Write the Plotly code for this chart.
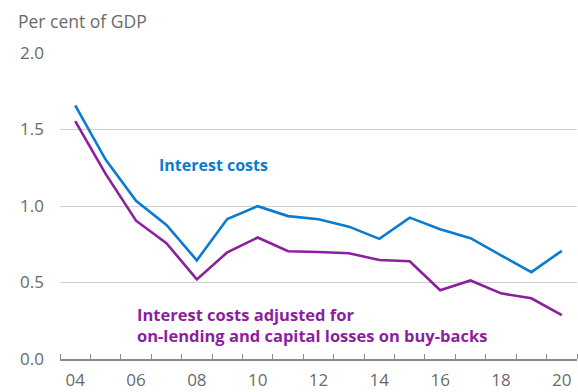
import plotly.graph_objects as go

years = list(range(2004, 2021))
interest_costs = [1.657, 1.303, 1.034, 0.876, 0.645, 0.915, 0.999, 0.934, 0.913,
                  0.865, 0.785, 0.924, 0.848, 0.790, 0.678, 0.568, 0.707]
adjusted_costs = [1.555, 1.210, 0.904, 0.757, 0.520, 0.697, 0.794, 0.704, 0.699,
                  0.691, 0.647, 0.639, 0.449, 0.513, 0.429, 0.397, 0.287]
tick_years = list(range(2004, 2021, 2))
tick_labels = ["04", "06", "08", "10", "12", "14", "16", "18", "20"]
y_ticks = [0, 0.5, 1.0, 1.5, 2.0]

BLUE = "#0B7BD0"
PURPLE = "#8C1F9D"
FONT = "Open Sans"

fig = go.Figure()
fig.add_trace(go.Scatter(x=years, y=interest_costs, mode="lines",
                         line=dict(color=BLUE, width=2.6), showlegend=False))
fig.add_trace(go.Scatter(x=years, y=adjusted_costs, mode="lines",
                         line=dict(color=PURPLE, width=2.6), showlegend=False))

fig.update_layout(
    width=578, height=392,
    margin=dict(l=60, r=1, t=53, b=30),
    paper_bgcolor="white", plot_bgcolor="white",
    font=dict(family=FONT, size=17, color="#6a6a6a"),
    title=dict(text="Per cent of GDP", xref="container", yref="container",
               x=18 / 578, y=1 - 22 / 392, xanchor="left", yanchor="middle",
               font=dict(family=FONT, size=17.5, color="#6a6a6a")),
    xaxis=dict(
        range=[2003.5, 2020.5],
        tickmode="array", tickvals=tick_years, ticktext=tick_labels,
        ticks="", showgrid=False, zeroline=False,
        showline=True, linecolor="#8a8a8a", linewidth=1.5,
        ticklabelstandoff=5,
        minor=dict(tickmode="array", tickvals=[y - 0.5 for y in range(2004, 2022)],
                   ticks="inside", ticklen=5, tickcolor="#8a8a8a", tickwidth=1.2,
                   showgrid=False),
        fixedrange=True,
    ),
    yaxis=dict(
        range=[0, 2.0],
        tickmode="array", tickvals=y_ticks,
        tickformat=".1f",
        showgrid=True, gridcolor="#cfcfcf", gridwidth=1,
        zeroline=False, ticks="", showline=False,
        ticklabelstandoff=15,
        fixedrange=True,
    ),
    annotations=[
        dict(text="<b>Interest costs</b>", xref="x", yref="y",
             x=2008.55, y=1.269, xanchor="center", yanchor="middle",
             showarrow=False, font=dict(family=FONT, size=16, color=BLUE)),
        dict(text="<b>Interest costs adjusted for<br>on-lending and capital losses on buy-backs</b>",
             xref="x", yref="y", x=2005.95, y=0.223,
             xanchor="left", yanchor="middle", align="left",
             showarrow=False, font=dict(family=FONT, size=16.5, color=PURPLE)),
    ],
)

fig.write_html("out.html")
